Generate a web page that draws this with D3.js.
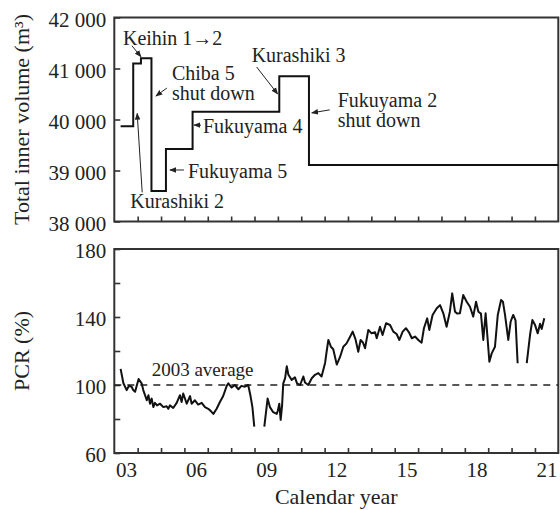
<!DOCTYPE html>
<html>
<head>
<meta charset="utf-8">
<script src="https://cdn.jsdelivr.net/npm/d3@7"></script>
<style>
  body { margin: 0; background: #fff; }
  text { font-family: "Liberation Serif", "Times New Roman", serif; fill: #222; }
</style>
</head>
<body>
<svg id="chart" width="560" height="510"></svg>
<script>
// ---- data ----
// total inner volume of blast furnaces (m3), step changes
var volYears  = [2003.27, 2003.81, 2004.14, 2004.59, 2005.21, 2006.35, 2010.06, 2011.33, 2022];
var volValues = [39870, 41100, 41200, 38600, 39420, 40150, 40850, 39110, 39110];
var volTicks = [38000, 39000, 40000, 41000, 42000];
var volTickLabels = ["38 000", "39 000", "40 000", "41 000", "42 000"];

// PCR (%) - null marks a gap in the record
var pcrYears = [
  2003.27, 2003.39, 2003.53, 2003.63, 2003.74, 2003.81, 2003.89, 2004.04, 2004.17, 2004.24,
  2004.39, 2004.46, 2004.53, 2004.60, 2004.67, 2004.74, 2004.83, 2004.96, 2005.10, 2005.24,
  2005.31, 2005.38, 2005.52, 2005.67, 2005.81, 2005.88, 2005.95, 2006.10, 2006.24, 2006.31,
  2006.45, 2006.59, 2006.74, 2006.88, 2007.02, 2007.14, 2007.24, 2007.38, 2007.52, 2007.66,
  2007.81, 2007.88, 2008.02, 2008.16, 2008.31, 2008.44, 2008.59, 2008.73, 2008.83, 2008.91,
  2008.99, 2009.20,
  2009.42, 2009.56, 2009.66, 2009.80, 2009.95, 2010.00, 2010.06, 2010.12, 2010.18, 2010.23,
  2010.31, 2010.38, 2010.45, 2010.59, 2010.73, 2010.82, 2010.95, 2011.09, 2011.16, 2011.30,
  2011.45, 2011.59, 2011.73, 2011.87, 2012.02, 2012.09, 2012.16, 2012.27, 2012.37, 2012.52,
  2012.66, 2012.80, 2012.94, 2013.09, 2013.20, 2013.32, 2013.44, 2013.54, 2013.64, 2013.73,
  2013.87, 2014.01, 2014.16, 2014.23, 2014.37, 2014.48, 2014.63, 2014.80, 2014.94, 2015.08,
  2015.20, 2015.34, 2015.48, 2015.61, 2015.73, 2015.87, 2016.01, 2016.15, 2016.25, 2016.39,
  2016.48, 2016.62, 2016.80, 2016.94, 2017.08, 2017.22, 2017.36, 2017.46, 2017.58, 2017.68,
  2017.79, 2017.93, 2018.08, 2018.22, 2018.36, 2018.48, 2018.58, 2018.69, 2018.79, 2018.89,
  2018.97, 2019.05, 2019.15, 2019.29, 2019.41, 2019.55, 2019.63, 2019.72, 2019.86, 2019.96,
  2020.07, 2020.17, 2020.26, 2020.45,
  2020.65, 2020.79, 2020.89, 2021.00, 2021.12, 2021.22, 2021.29, 2021.40
];
var pcrValues = [
  109.5, 101, 97, 99.5, 99, 97, 96, 103.5, 101, 97,
  91, 94, 89, 92, 87, 89.5, 88, 89, 87, 87.5,
  86, 88, 86.5, 89.5, 94, 90, 95, 89, 93.5, 89,
  91, 88.5, 89.5, 87, 86, 84.5, 83, 86, 90, 93.5,
  99.5, 101, 98.5, 100, 97.5, 99.5, 99, 100, 93.5, 87,
  75.5, null,
  75.5, 92, 87, 84, 83, 85, 89, 79.5, 88, 101,
  104, 111, 106, 103, 104.5, 101, 100, 105, 101.5, 100,
  104, 106, 107, 105, 113, 120, 126.5, 122.5, 121, 112,
  116.5, 122.5, 124.5, 128.4, 131.4, 127, 119.6, 126.5, 125, 121.6,
  132.4, 130.4, 131, 127.5, 134.3, 129.4, 136.3, 135.3, 131.4, 130,
  126.5, 131.4, 133.4, 131, 127.5, 128.5, 126.5, 124.9, 133.4, 139.2,
  132.4, 141.2, 145.1, 147, 142.2, 134.3, 143.1, 153.9, 143.1, 142,
  142.2, 152.9, 149, 146, 140.2, 149, 143.1, 142, 126.5, 142.2,
  128, 113.7, 118.6, 122.5, 141.2, 150, 149, 141.2, 126.5, 137.2,
  141.2, 138, 112.8, null,
  112.8, 129.4, 138.2, 135.5, 130.4, 136, 133, 139.2
];
var pcrAverage = 100;
var pcrTicks = [60, 80, 100, 120, 140, 160, 180];
var pcrTickLabels = ["60", "", "100", "", "140", "", "180"];

var yearTicks = d3.range(2004, 2022);
var yearLabelYears = [2003, 2006, 2009, 2012, 2015, 2018, 2021];
var yearLabels = ["03", "06", "09", "12", "15", "18", "21"];

// annotations: tip in data units, tail / text as pixel offsets from tip
var notes = [
  { year: 2004.14, value: 41230, tail: [-9, -11], text: [-18, -12], lines: ["Keihin 1\u21922"] },
  { year: 2004.78, value: 40460, tail: [11, -8], text: [16, -16], lines: ["Chiba 5", "shut down"] },
  { year: 2003.98, value: 40120, tail: [5, 79], text: [-7, 95], lines: ["Kurashiki 2"] },
  { year: 2005.38, value: 39010, tail: [14, 0], text: [18, 8], lines: ["Fukuyama 5"] },
  { year: 2006.41, value: 39890, tail: [7, 0], text: [9, 8], lines: ["Fukuyama 4"] },
  { year: 2009.99, value: 40500, tail: [-21, -27], text: [-26, -32], lines: ["Kurashiki 3"] },
  { year: 2011.45, value: 40130, tail: [18, -3], text: [26, -6], lines: ["Fukuyama 2", "shut down"] }
];

// ---- layout ----
var svg = d3.select("#chart");
var left = 114.3, right = 558.3;
var x = d3.scaleLinear().domain([2003, 2022]).range([left, right]);
var yTop = d3.scaleLinear().domain([38000, 42000]).range([221.5, 17.5]);
var yBot = d3.scaleLinear().domain([60, 180]).range([453, 249]);

svg.append("defs").append("marker")
    .attr("id", "head")
    .attr("viewBox", "0 0 10 10")
    .attr("refX", 9).attr("refY", 5)
    .attr("markerWidth", 7).attr("markerHeight", 7)
    .attr("markerUnits", "userSpaceOnUse")
    .attr("orient", "auto")
  .append("path")
    .attr("d", "M0,1 L10,5 L0,9 Z")
    .attr("fill", "#222");

function panel(yScale, ticks, labels) {
  var g = svg.append("g");
  var y0 = yScale.range()[0], y1 = yScale.range()[1];

  // left ticks, pointing inward
  var ay = g.append("g")
      .attr("transform", "translate(" + left + ",0)")
      .call(d3.axisLeft(yScale)
        .tickValues(ticks)
        .tickSizeInner(-6).tickSizeOuter(0)
        .tickPadding(8)
        .tickFormat(function(d, i) { return labels[i]; }));
  ay.select(".domain").remove();
  ay.selectAll("line").attr("stroke", "#333").attr("stroke-width", 1.6);
  ay.selectAll("text").attr("font-size", 21).attr("dy", "0.42em")
    .attr("font-family", "Liberation Serif, serif").attr("fill", "#222");

  // bottom ticks, one per year
  var ax = g.append("g")
      .attr("transform", "translate(0," + y0 + ")")
      .call(d3.axisBottom(x).tickValues(yearTicks).tickSizeInner(-5).tickSizeOuter(0).tickFormat(""));
  ax.select(".domain").remove();
  ax.selectAll("line").attr("stroke", "#333").attr("stroke-width", 1.6);

  g.append("rect")
    .attr("x", left).attr("y", y1)
    .attr("width", right - left).attr("height", y0 - y1)
    .attr("fill", "none").attr("stroke", "#333").attr("stroke-width", 2);
  return g;
}

// ---- top panel: inner volume ----
var topG = panel(yTop, volTicks, volTickLabels);
var volData = volYears.map(function(d, i) { return [d, volValues[i]]; });
topG.append("path")
  .datum(volData)
  .attr("fill", "none")
  .attr("stroke", "#111")
  .attr("stroke-width", 2)
  .attr("d", d3.line()
    .curve(d3.curveStepAfter)
    .x(function(d) { return x(d[0]); })
    .y(function(d) { return yTop(d[1]); }));

notes.forEach(function(n) {
  var px = x(n.year), py = yTop(n.value);
  topG.append("line")
    .attr("x1", px + n.tail[0]).attr("y1", py + n.tail[1])
    .attr("x2", px).attr("y2", py)
    .attr("stroke", "#222").attr("stroke-width", 1)
    .attr("marker-end", "url(#head)");
  var t = topG.append("text")
    .attr("x", px + n.text[0]).attr("y", py + n.text[1])
    .attr("font-size", 20);
  n.lines.forEach(function(s, i) {
    t.append("tspan").attr("x", px + n.text[0]).attr("dy", i ? 20 : 0).text(s);
  });
});

svg.append("text")
  .attr("transform", "translate(29," + (yTop.range()[0] + yTop.range()[1]) / 2 + ") rotate(-90)")
  .attr("text-anchor", "middle")
  .attr("font-size", 22)
  .text("Total inner volume (m\u00b3)");

// ---- bottom panel: PCR ----
var botG = panel(yBot, pcrTicks, pcrTickLabels);

botG.append("line")
  .attr("x1", left).attr("x2", right)
  .attr("y1", yBot(pcrAverage)).attr("y2", yBot(pcrAverage))
  .attr("stroke", "#222").attr("stroke-width", 1.6)
  .attr("stroke-dasharray", "7,6");

botG.append("text")
  .attr("x", x(2004.6)).attr("y", yBot(pcrAverage) - 9)
  .attr("font-size", 19)
  .text("2003 average");

var pcrData = pcrYears.map(function(d, i) { return [d, pcrValues[i]]; });
botG.append("path")
  .datum(pcrData)
  .attr("fill", "none")
  .attr("stroke", "#111")
  .attr("stroke-width", 2)
  .attr("stroke-linejoin", "round")
  .attr("d", d3.line()
    .defined(function(d) { return d[1] !== null; })
    .x(function(d) { return x(d[0]); })
    .y(function(d) { return yBot(d[1]); }));

var lab = svg.append("g")
    .attr("transform", "translate(0," + yBot.range()[0] + ")")
    .call(d3.axisBottom(x)
      .tickValues(yearLabelYears.map(function(d) { return d + 0.5; }))
      .tickSize(0).tickPadding(9)
      .tickFormat(function(d, i) { return yearLabels[i]; }));
lab.select(".domain").remove();
lab.selectAll("text").attr("font-size", 21)
  .attr("font-family", "Liberation Serif, serif").attr("fill", "#222");

svg.append("text")
  .attr("transform", "translate(29," + (yBot.range()[0] + yBot.range()[1]) / 2 + ") rotate(-90)")
  .attr("text-anchor", "middle")
  .attr("font-size", 22)
  .text("PCR (%)");

svg.append("text")
  .attr("x", (left + right) / 2).attr("y", 504)
  .attr("text-anchor", "middle")
  .attr("font-size", 22)
  .text("Calendar year");
</script>
</body>
</html>
